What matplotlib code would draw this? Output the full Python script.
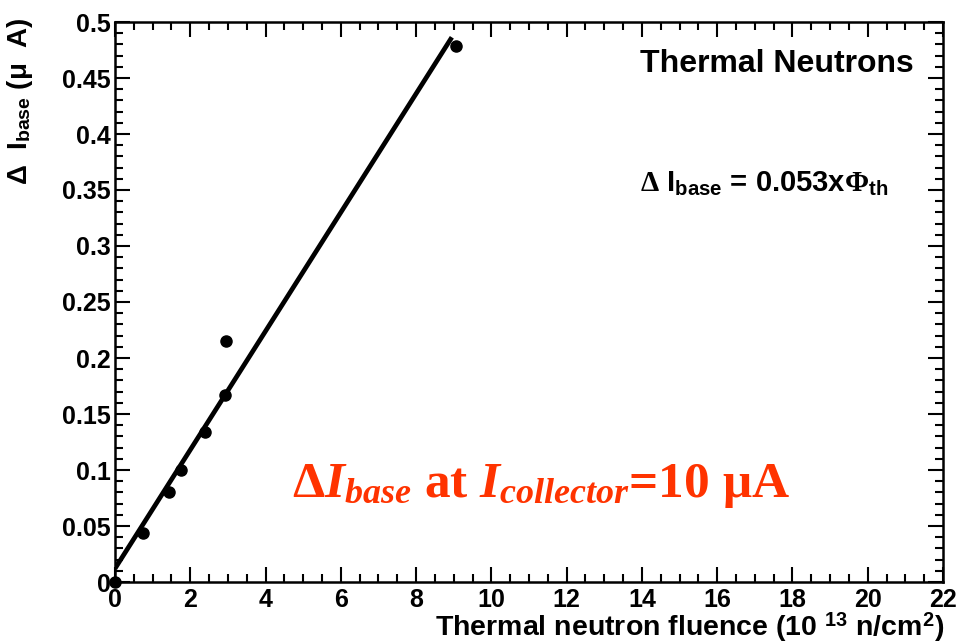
import numpy as np
import matplotlib
matplotlib.use("Agg")
import matplotlib.pyplot as plt
from matplotlib.ticker import MultipleLocator

plt.rcParams['font.family'] = ['Liberation Sans', 'DejaVu Sans']
plt.rcParams['mathtext.fontset'] = 'custom'
plt.rcParams['mathtext.rm'] = 'Liberation Serif:bold'
plt.rcParams['mathtext.it'] = 'Liberation Serif:bold:italic'
plt.rcParams['mathtext.bf'] = 'Liberation Serif:bold'
plt.rcParams['mathtext.sf'] = 'Liberation Sans:bold'

# measured points (thermal neutron fluence, 1e13 n/cm2 ; delta I_base, uA)
fluence = [0.0, 0.75, 1.44, 1.75, 2.40, 2.92, 2.96, 9.05]
delta_ib = [0.0, 0.0435, 0.080, 0.100, 0.134, 0.167, 0.215, 0.479]

# fitted line
fit_x = [0.0, 8.95]
fit_slope = 0.053
fit_offset = 0.012

fig = plt.figure(figsize=(9.7, 6.44), dpi=100)
ax = fig.add_axes([115 / 970, 62 / 644, 828 / 970, 560 / 644])

fx = np.array(fit_x)
ax.plot(fx, fit_offset + fit_slope * fx, color='black', lw=3.4, solid_capstyle='butt', zorder=2)
ax.plot(fluence, delta_ib, 'o', color='black', ms=8, zorder=3, clip_on=False)

ax.set_xlim(0, 22)
ax.set_ylim(0, 0.5)
ax.xaxis.set_major_locator(MultipleLocator(2))
ax.xaxis.set_minor_locator(MultipleLocator(0.5))
ax.yaxis.set_major_locator(MultipleLocator(0.05))
ax.yaxis.set_minor_locator(MultipleLocator(0.01))
ax.yaxis.set_major_formatter(plt.FuncFormatter(lambda v, p: ('%g' % round(v, 3))))

ax.tick_params(which='both', direction='in', top=True, right=True, width=1.5, colors='black')
ax.tick_params(which='major', length=11)
ax.tick_params(which='minor', length=5.8)
ax.tick_params(axis='x', which='major', labelsize=18, pad=4)
ax.tick_params(axis='y', which='major', labelsize=18, pad=3)
for lab in ax.get_xticklabels() + ax.get_yticklabels():
    lab.set_fontweight('bold')
for s in ax.spines.values():
    s.set_linewidth(1.8)

ax.text(1.002, -0.08, r'Thermal neutron fluence (10 $^{\mathsf{13}}$ n/cm$^{\mathsf{2}}$)',
        transform=ax.transAxes, ha='right', va='center', fontsize=20.5, fontweight='bold')
ax.text(-0.115, 1.008, r'$\mathsf{\Delta}$  I$_{\mathsf{base}}$ ($\mathsf{\mu}$  A)',
        transform=ax.transAxes, ha='center', va='top', rotation=90, fontsize=20, fontweight='bold')

ax.text(13.95, 0.455, 'Thermal Neutrons', fontsize=23, fontweight='bold', ha='left', va='baseline')
ax.text(13.95, 0.348, r'$\Delta$ I$_{\mathsf{base}}$ = 0.053x$\Phi_{\mathsf{th}}$',
        fontsize=21, fontweight='bold', ha='left', va='baseline')

ax.text(4.7, 0.076, r'$\mathit{\Delta I_{base}}$ at $\mathit{I_{collector}}$=10 μA',
        fontsize=37, color='#ff3300', family='Liberation Serif', fontweight='bold',
        ha='left', va='baseline')

fig.savefig('out.png', dpi=100)
